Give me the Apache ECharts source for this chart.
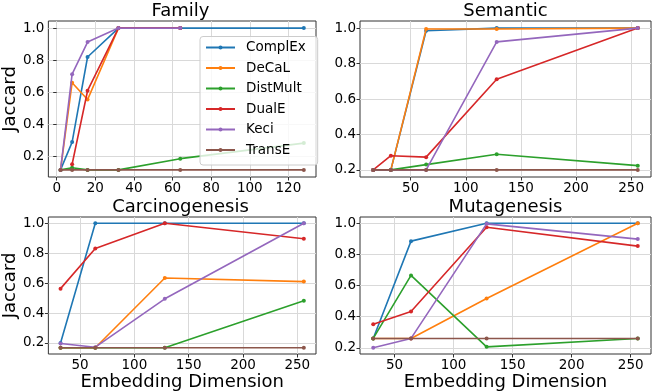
<!DOCTYPE html>
<html><head><meta charset="utf-8">
<script src="https://cdn.jsdelivr.net/npm/echarts@6/dist/echarts.min.js"></script>
<style>html,body{margin:0;padding:0;background:#fff}#c{width:656px;height:392px}</style>
</head><body><div id="c"></div>
<script>
const models = ['ComplEx', 'DeCaL', 'DistMult', 'DualE', 'Keci', 'TransE'];
const colors = ['#1f77b4', '#ff7f0e', '#2ca02c', '#d62728', '#9467bd', '#8c564b'];

const familyDims = [2, 8, 16, 32, 64, 128];
const familyComplEx = [0.117, 0.29, 0.82, 1.0, 1.0, 1.0];
const familyDeCaL = [0.117, 0.66, 0.555, 1.0, 1.0, null];
const familyDistMult = [0.117, 0.13, 0.117, 0.117, 0.187, 0.284];
const familyDualE = [null, 0.152, 0.61, 1.0, 1.0, null];
const familyKeci = [0.117, 0.713, 0.913, 1.0, 1.0, null];
const familyTransE = [0.117, 0.117, 0.117, 0.117, 0.117, 0.117];

const semanticDims = [16, 32, 64, 128, 256];
const semanticComplEx = [0.2, 0.2, 0.985, 1.0, 1.0];
const semanticDeCaL = [0.2, 0.2, 0.995, 0.995, 1.0];
const semanticDistMult = [0.2, 0.2, 0.23, 0.288, 0.224];
const semanticDualE = [0.2, 0.28, 0.272, 0.711, 1.0];
const semanticKeci = [0.2, 0.2, 0.2, 0.922, 1.0];
const semanticTransE = [0.2, 0.2, 0.2, 0.2, 0.2];

const carcinoDims = [32, 64, 128, 256];
const carcinoComplEx = [0.2, 1.0, 1.0, 1.0];
const carcinoDeCaL = [0.168, 0.168, 0.634, 0.61];
const carcinoDistMult = [0.168, 0.168, 0.168, 0.482];
const carcinoDualE = [0.563, 0.831, 1.0, 0.896];
const carcinoKeci = [0.197, 0.172, 0.495, 1.0];
const carcinoTransE = [0.168, 0.168, 0.168, 0.168];

const mutaDims = [32, 64, 128, 256];
const mutaComplEx = [0.26, 0.885, 1.0, 1.0];
const mutaDeCaL = [0.26, 0.26, 0.516, 1.0];
const mutaDistMult = [0.26, 0.665, 0.206, 0.26];
const mutaDualE = [0.351, 0.433, 0.974, 0.853];
const mutaKeci = [0.2, 0.26, 0.996, 0.898];
const mutaTransE = [0.26, 0.26, 0.26, 0.26];

const yTicks = [0.2, 0.4, 0.6, 0.8, 1.0];
const familyXTicks = [0, 20, 40, 60, 80, 100, 120];
const dimXTicks = [50, 100, 150, 200, 250];

const panels = [
  { title: 'Family', dims: familyDims, data: [familyComplEx, familyDeCaL, familyDistMult, familyDualE, familyKeci, familyTransE], xTicks: familyXTicks,
    grid: { left: 45, top: 21, width: 271, height: 156 }, yName: true, xName: false },
  { title: 'Semantic', dims: semanticDims, data: [semanticComplEx, semanticDeCaL, semanticDistMult, semanticDualE, semanticKeci, semanticTransE], xTicks: dimXTicks,
    grid: { left: 360, top: 21, width: 291, height: 156 }, yName: false, xName: false },
  { title: 'Carcinogenesis', dims: carcinoDims, data: [carcinoComplEx, carcinoDeCaL, carcinoDistMult, carcinoDualE, carcinoKeci, carcinoTransE], xTicks: dimXTicks,
    grid: { left: 45, top: 217, width: 271, height: 137 }, yName: true, xName: true },
  { title: 'Mutagenesis', dims: mutaDims, data: [mutaComplEx, mutaDeCaL, mutaDistMult, mutaDualE, mutaKeci, mutaTransE], xTicks: dimXTicks,
    grid: { left: 360, top: 217, width: 291, height: 137 }, yName: false, xName: true }
];

const FONT = 'DejaVu Sans';
function padRange(vals) {
  const v = vals.filter(x => x != null);
  const lo = Math.min(...v), hi = Math.max(...v);
  const d = (hi - lo) * 0.05;
  return [lo - d, hi + d];
}

const grids = [], xAxes = [], yAxes = [], series = [], graphics = [];
panels.forEach((p, i) => {
  grids.push(Object.assign({ show: true, borderColor: '#333', borderWidth: 1, backgroundColor: 'transparent' }, p.grid));
  const xr = padRange(p.dims);
  const yr = padRange([].concat(...p.data));
  const tickStyle = { show: true, length: 3.5, lineStyle: { color: '#333', width: 1 } };
  xAxes.push({
    type: 'value', gridIndex: i, min: xr[0], max: xr[1],
    axisLine: { show: false },
    axisTick: Object.assign({ customValues: p.xTicks }, tickStyle),
    axisLabel: { customValues: p.xTicks, fontSize: 13.5, fontFamily: FONT, color: '#000', margin: 4 },
    splitLine: { show: true, lineStyle: { color: '#d9d9d9', width: 1 } },
    name: p.xName ? 'Embedding Dimension' : '', nameLocation: 'middle', nameGap: 16,
    nameTextStyle: { fontSize: 18, fontFamily: FONT, color: '#000' }
  });
  yAxes.push({
    type: 'value', gridIndex: i, min: yr[0], max: yr[1],
    axisLine: { show: false },
    axisTick: Object.assign({ customValues: yTicks }, tickStyle),
    axisLabel: { customValues: yTicks, fontSize: 13.5, fontFamily: FONT, color: '#000', margin: 4, formatter: v => v.toFixed(1) },
    splitLine: { show: true, lineStyle: { color: '#d9d9d9', width: 1 } },
    name: p.yName ? 'Jaccard' : '', nameLocation: 'middle', nameGap: 25,
    nameTextStyle: { fontSize: 18, fontFamily: FONT, color: '#000' }
  });
  p.data.forEach((vals, k) => {
    const pts = [];
    p.dims.forEach((d, j) => { if (vals[j] != null) pts.push([d, vals[j]]); });
    series.push({
      type: 'line', name: models[k], xAxisIndex: i, yAxisIndex: i, data: pts,
      symbol: 'circle', symbolSize: 4, showSymbol: true,
      lineStyle: { color: colors[k], width: 1.6 }, itemStyle: { color: colors[k] },
      emphasis: { disabled: true }, z: 2 + k * 0.01
    });
  });
  graphics.push({
    type: 'text', x: p.grid.left + p.grid.width / 2, y: p.grid.top - 19,
    style: { text: p.title, fontSize: 18, fontFamily: FONT, fill: '#000', align: 'center', verticalAlign: 'top' }
  });
});

const chart = echarts.init(document.getElementById('c'));
chart.setOption({
  animation: false,
  grid: grids, xAxis: xAxes, yAxis: yAxes, series: series, graphic: graphics,
  legend: {
    data: models, orient: 'vertical', left: 200, top: 36.5,
    padding: [4, 12, 8, 5], itemWidth: 29, itemHeight: 5, itemGap: 6.5,
    backgroundColor: 'rgba(255,255,255,0.8)', borderColor: '#cccccc', borderWidth: 1, borderRadius: 3,
    textStyle: { fontSize: 13.5, fontFamily: FONT, color: '#000', padding: [0, 0, 0, 6], lineHeight: 14 },
    selectedMode: false
  }
});
</script></body></html>
